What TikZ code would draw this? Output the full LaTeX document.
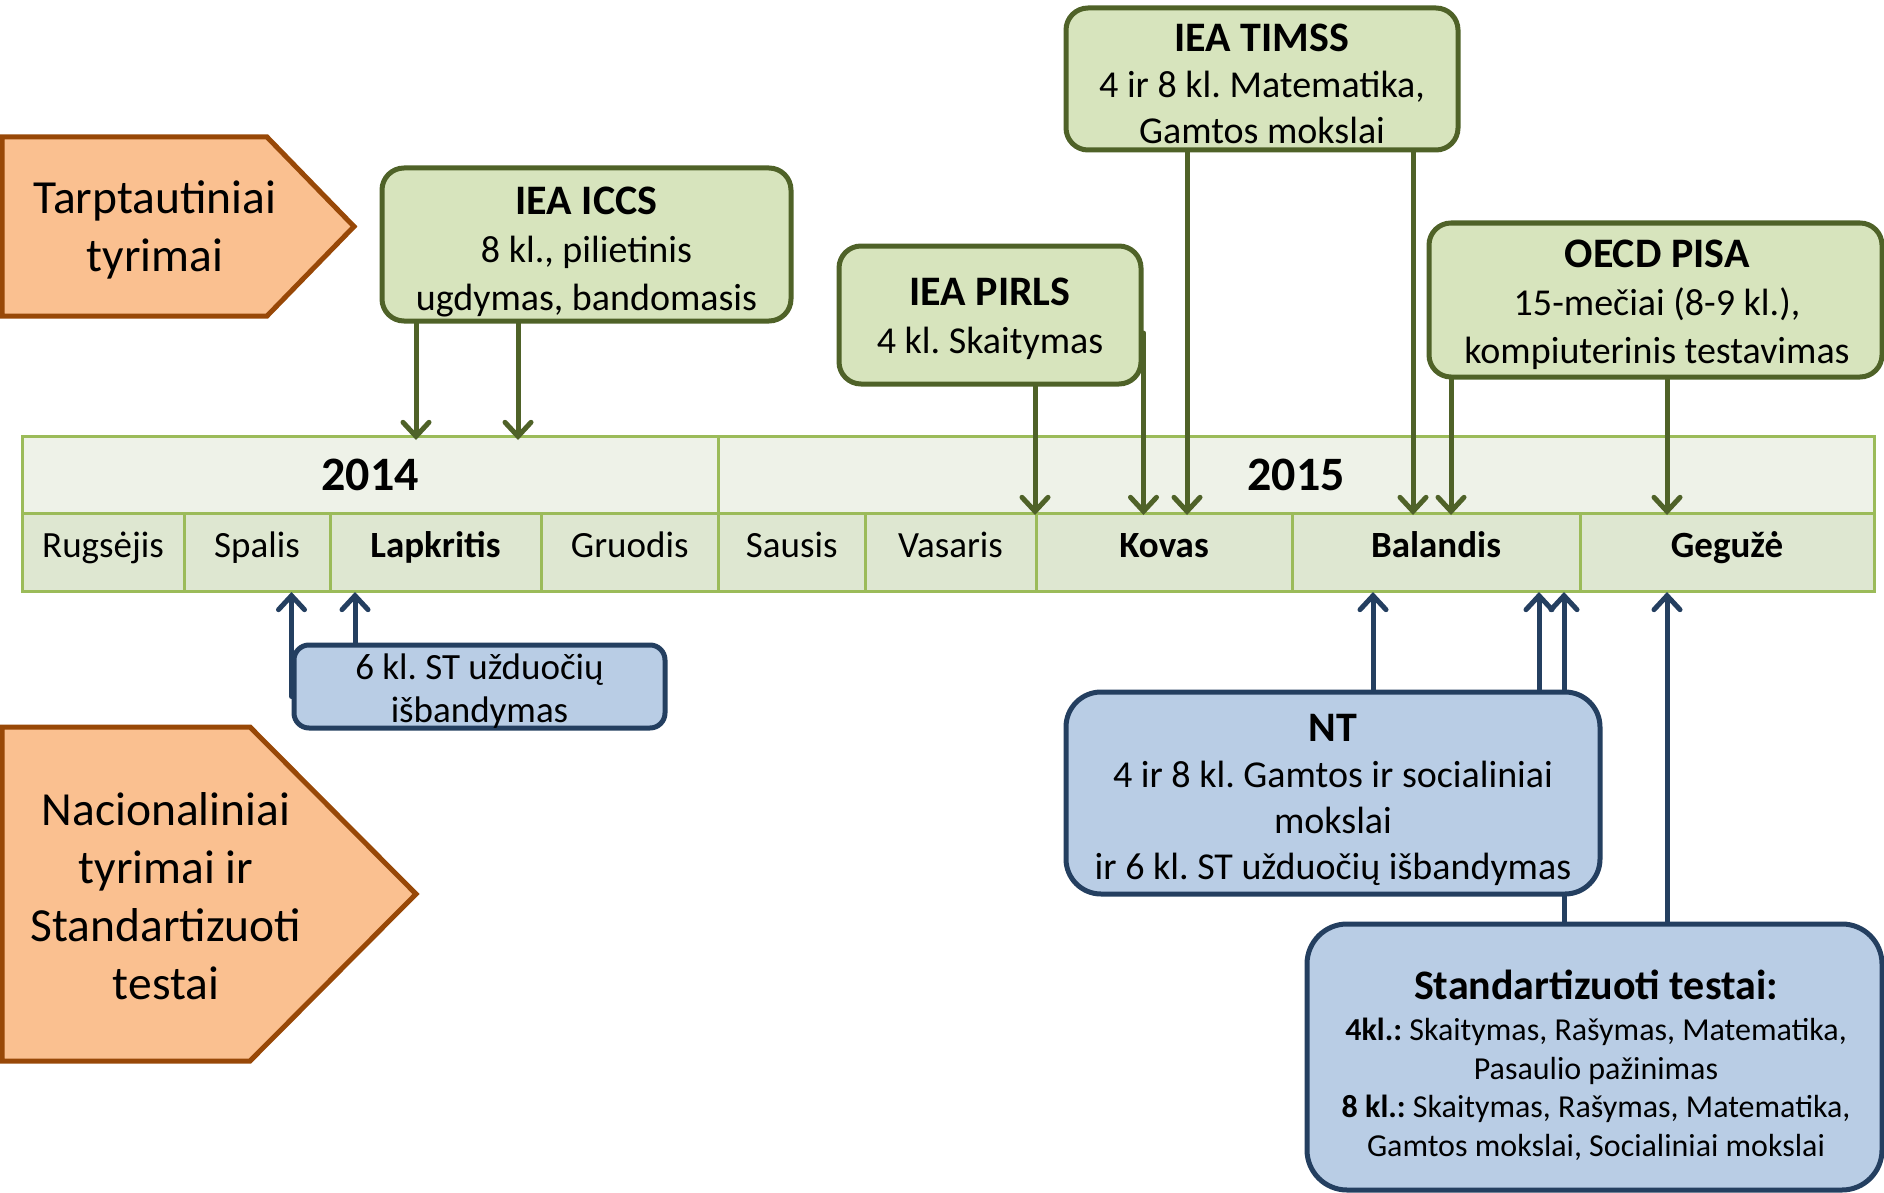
\documentclass[tikz,border=0pt]{standalone}
\usepackage{fontspec}
\setmainfont{Carlito}
\usetikzlibrary{arrows.meta}
\definecolor{gfill}{HTML}{D7E4BD}
\definecolor{gdraw}{HTML}{4F6228}
\definecolor{bfill}{HTML}{B9CDE5}
\definecolor{bdraw}{HTML}{243F60}
\definecolor{ofill}{HTML}{FAC090}
\definecolor{odraw}{HTML}{984807}
\definecolor{tline}{HTML}{9BBB59}
\definecolor{yfill}{HTML}{EEF2E8}
\definecolor{mfill}{HTML}{DEE7D1}
\frenchspacing
\begin{document}
\begin{tikzpicture}[x=1pt,y=-1pt,
  gbox/.style={draw=gdraw, fill=gfill, line width=5pt, rounded corners=22pt, inner sep=0pt},
  bbox/.style={draw=bdraw, fill=bfill, line width=5pt, inner sep=0pt},
  btxt/.style={align=center, inner sep=0pt, font=\fontsize{38}{48}\selectfont},
  ttl/.style={font=\fontsize{42}{48}\selectfont\bfseries},
  obox/.style={draw=odraw, fill=ofill, line width=5pt, line join=miter},
  otext/.style={align=center, inner sep=0pt, font=\fontsize{47.5}{58}\selectfont},
  month/.style={inner sep=0pt, anchor=base, font=\fontsize{37}{42}\selectfont},
  bmonth/.style={month, font=\fontsize{37}{42}\selectfont\bfseries},
  yeartxt/.style={inner sep=0pt, anchor=base, font=\fontsize{48}{52}\selectfont\bfseries},
  garrow/.style={draw=gdraw, line width=5pt, line cap=round, -{Straight Barb[length=14pt,width=26pt,line cap=round]}},
  barrow/.style={draw=bdraw, line width=5pt, line cap=round, -{Straight Barb[length=14pt,width=26pt,line cap=round]}},
  tl/.style={draw=tline, line width=3pt}
]
\useasboundingbox (0,0) rectangle (1884,1193);

% timeline table
\path[fill=yfill] (22,436) rectangle (1874,513);
\path[fill=mfill] (22,513) rectangle (1874,591);
\draw[tl] (22,436) rectangle (1874,591);
\draw[tl] (22,513) -- (1874,513);
\draw[tl] (718.5,436) -- (718.5,591);
\foreach \xx in {184,330,541,865,1036,1292,1580} \draw[tl] (\xx,513) -- (\xx,591);

\node[yeartxt] (y14) at (370,490) {2014};
\node[yeartxt] (y15) at (1296,490) {2015};
\node[month] (m1) at (103,557) {Rugsėjis};
\node[month] (m2) at (257,557) {Spalis};
\node[bmonth] (m3) at (435.5,557) {Lapkritis};
\node[month] (m4) at (629.75,557) {Gruodis};
\node[month] (m5) at (791.75,557) {Sausis};
\node[month] (m6) at (950.5,557) {Vasaris};
\node[bmonth] (m7) at (1164,557) {Kovas};
\node[bmonth] (m8) at (1436,557) {Balandis};
\node[bmonth] (m9) at (1727,557) {Gegužė};

% orange arrows
\draw[obox] (2,137) -- (267,137) -- (354,226.5) -- (267,316) -- (2,316) -- cycle;
\node[otext] (tarpt) at (155,230) {Tarptautiniai\\tyrimai};
\draw[obox] (2,727) -- (250,727) -- (416,894) -- (250,1061) -- (2,1061) -- cycle;
\node[otext] (nacion) at (166,896) {Nacionaliniai\\tyrimai ir\\Standartizuoti\\testai};

% green boxes
\node[gbox, minimum width=409pt, minimum height=153pt] (iccs) at (586.5,244.5) {};
\node[btxt] (iccs-t) at (586.5,251.5) {{\fontsize{42}{48}\selectfont\bfseries IEA ICCS}\\8 kl., pilietinis\\ugdymas, bandomasis};
\node[gbox, minimum width=392pt, minimum height=142pt] (timss) at (1262,79) {};
\node[btxt, font=\fontsize{38}{46}\selectfont] (timss-t) at (1262,83.5) {{\fontsize{42}{46}\selectfont\bfseries IEA TIMSS}\\4 ir 8 kl. Matematika,\\Gamtos mokslai};
\node[gbox, minimum width=302pt, minimum height=138pt] (pirls) at (990,315) {};
\node[btxt] (pirls-t) at (990,319) {{\fontsize{42}{48}\selectfont\bfseries IEA PIRLS}\\4 kl. Skaitymas};
\node[gbox, minimum width=453pt, minimum height=154pt] (pisa) at (1655.5,300) {};
\node[btxt] (pisa-t) at (1657,305) {{\fontsize{42}{48}\selectfont\bfseries OECD PISA}\\15-mečiai (8-9 kl.),\\kompiuterinis testavimas};

% green arrows
\coordinate (g1) at (416,440);
\coordinate (g2) at (518,440);
\coordinate (g3) at (1035,515);
\coordinate (g4) at (1141,515);
\coordinate (g5) at (1187,515);
\coordinate (g6) at (1413,515);
\coordinate (g7) at (1451,515);
\coordinate (g8) at (1667,515);
\draw[garrow] (iccs.south -| g1) -- (g1);
\draw[garrow] (iccs.south -| g2) -- (g2);
\draw[garrow] (pirls.south -| g3) -- (g3);
\draw[garrow] ([yshift=-18pt]pirls.east) -- (pirls.east |- g4);
\draw[garrow] (timss.south -| g5) -- (g5);
\draw[garrow] (timss.south -| g6) -- (g6);
\draw[garrow] (pisa.south -| g7) -- (g7);
\draw[garrow] (pisa.south -| g8) -- (g8);

% blue boxes and arrows
\node[bbox, rounded corners=15pt, minimum width=371pt, minimum height=83pt] (k6) at (479.5,686.5) {};
\node[btxt, font=\fontsize{37}{43}\selectfont] (k6-t) at (479.5,691.5) {6 kl. ST užduočių\\išbandymas};
\coordinate (b1) at (295,592);
\coordinate (b2) at (355,592);
\draw[barrow] ([yshift=-10pt]k6.west) -- (k6.west |- b1);
\draw[barrow] (k6.north -| b2) -- (b2);

\node[bbox, rounded corners=40pt, minimum width=575pt, minimum height=266pt] (st) at (1594.5,1057) {};
\node[btxt, font=\fontsize{32}{38.5}\selectfont] (st-t) at (1596,1065)
  {{\fontsize{42}{48}\selectfont\bfseries Standartizuoti testai:}\\[3pt]
   \textbf{4kl.:} Skaitymas, Rašymas, Matematika,\\Pasaulio pažinimas\\
   \textbf{8 kl.:} Skaitymas, Rašymas, Matematika,\\Gamtos mokslai, Socialiniai mokslai};
\coordinate (b5) at (1564,592);
\coordinate (b6) at (1667,592);
\draw[barrow] (st.north -| b5) -- (b5);
\draw[barrow] (st.north -| b6) -- (b6);

\node[bbox, rounded corners=35pt, minimum width=534pt, minimum height=202pt] (nt) at (1333,793) {};
\node[btxt, font=\fontsize{38}{46}\selectfont] (nt-t) at (1333,800)
  {{\fontsize{42}{48}\selectfont\bfseries NT}\\4 ir 8 kl. Gamtos ir socialiniai\\mokslai\\ir 6 kl. ST užduočių išbandymas};
\coordinate (b3) at (1373,592);
\coordinate (b4) at (1539,592);
\draw[barrow] (nt.north -| b3) -- (b3);
\draw[barrow] (nt.north -| b4) -- (b4);
\end{tikzpicture}
\end{document}
